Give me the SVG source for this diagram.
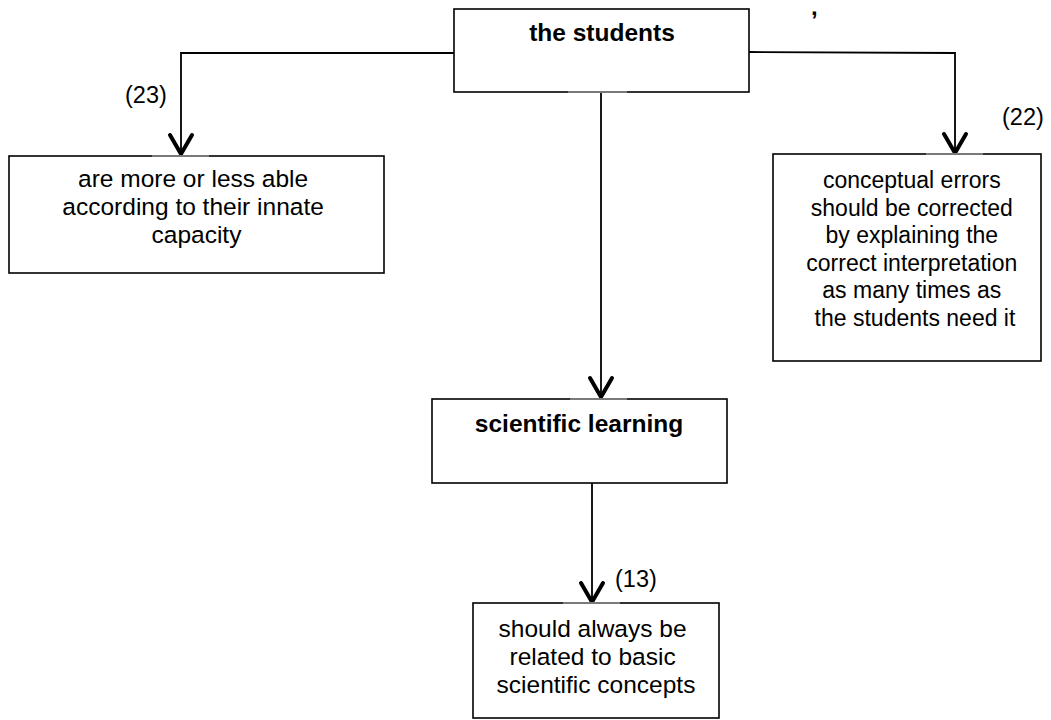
<svg xmlns="http://www.w3.org/2000/svg" width="1051" height="720" viewBox="0 0 1051 720">
  <style>
    .box { fill: #ffffff; stroke: #000000; stroke-width: 1.6; }
    .wire { fill: none; stroke: #000000; stroke-width: 1.8; }
    .txt { font-family: "Liberation Sans", Arial, sans-serif; fill: #000000; text-anchor: middle; }
    .bold { font-weight: bold; font-size: 24.5px; }
    .lbl { font-family: "Liberation Sans", Arial, sans-serif; fill: #000000; font-size: 23.5px; }
    .seam { stroke: #7a7a7a; stroke-width: 2; }
  </style>
  <defs>
    <!-- open V arrowhead, drawn along +x so orient="auto" points it down the path -->
    <marker id="vee" viewBox="0 0 26 28" refX="22" refY="14" markerWidth="26" markerHeight="28" markerUnits="userSpaceOnUse" orient="auto">
      <path d="M3,3 L22,14 L3,25" fill="none" stroke="#000000" stroke-width="4" stroke-linejoin="miter" stroke-linecap="round"/>
    </marker>
  </defs>
  <rect width="1051" height="720" fill="#ffffff"/>

  <!-- connectors -->
  <g id="connectors">
    <path class="wire" d="M454,53 L181,53 L181,154" marker-end="url(#vee)"/>
    <path class="wire" d="M749,52 L955,53 L955,153" marker-end="url(#vee)"/>
    <path class="wire" d="M601,92 L601,397" marker-end="url(#vee)"/>
    <path class="wire" d="M592,483 L592,602" marker-end="url(#vee)"/>
    <text class="lbl" x="125" y="103">(23)</text>
    <text class="lbl" x="1002" y="125">(22)</text>
    <text class="lbl" x="615" y="587">(13)</text>
  </g>

  <!-- the students -->
  <g id="node-students">
    <rect class="box" x="454" y="9" width="295" height="83"/>
    <line class="seam" x1="568" y1="92" x2="627" y2="92"/>
    <text class="txt bold" x="602" y="41">the students</text>
  </g>

  <!-- stray comma near the top -->
  <text class="lbl" x="811" y="15" style="font-weight:bold;font-size:24px">,</text>

  <!-- left branch -->
  <g id="node-able">
    <rect class="box" x="9" y="156" width="375" height="117"/>
    <line class="seam" x1="152" y1="156" x2="209" y2="156"/>
    <text class="txt" style="font-size:24.5px">
      <tspan x="196.5" y="187">are more or less able</tspan>
      <tspan x="196.5" y="215">according to their innate</tspan>
      <tspan x="196.5" y="243">capacity</tspan>
    </text>
  </g>

  <!-- right branch -->
  <g id="node-errors">
    <rect class="box" x="773" y="154" width="268" height="207"/>
    <line class="seam" x1="926" y1="154" x2="983" y2="154"/>
    <text class="txt" style="font-size:23px">
      <tspan x="915" y="188">conceptual errors</tspan>
      <tspan x="915" y="216">should be corrected</tspan>
      <tspan x="915" y="243">by explaining the</tspan>
      <tspan x="915" y="271">correct interpretation</tspan>
      <tspan x="915" y="298">as many times as</tspan>
      <tspan x="915" y="326">the students need it</tspan>
    </text>
  </g>

  <!-- centre -->
  <g id="node-learning">
    <rect class="box" x="432" y="399" width="295" height="84"/>
    <line class="seam" x1="570" y1="399" x2="627" y2="399"/>
    <text class="txt bold" x="579" y="432">scientific learning</text>
  </g>

  <g id="node-concepts">
    <rect class="box" x="473" y="603" width="246" height="115"/>
    <line class="seam" x1="563" y1="603" x2="620" y2="603"/>
    <text class="txt" style="font-size:24.5px">
      <tspan x="596" y="637">should always be</tspan>
      <tspan x="596" y="665">related to basic</tspan>
      <tspan x="596" y="693">scientific concepts</tspan>
    </text>
  </g>
</svg>
